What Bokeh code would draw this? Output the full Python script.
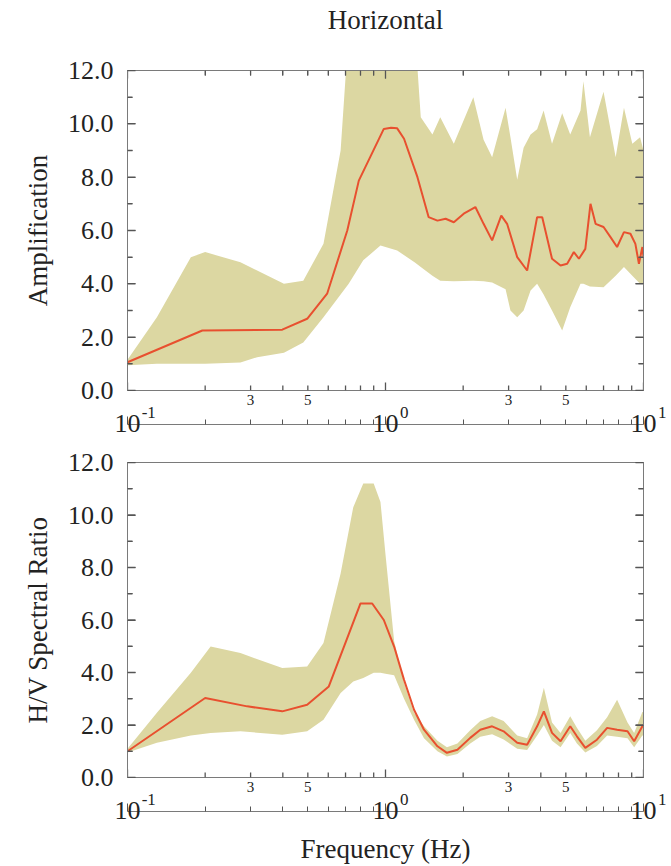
import math
from bokeh.plotting import figure
from bokeh.models import (Range1d, FixedTicker, LogAxis, LinearAxis,
                          CustomJSTickFormatter, NumeralTickFormatter)
from bokeh.layouts import column
from bokeh.embed import file_html
from bokeh.resources import INLINE

# ---------------- data ----------------
# Top panel: Horizontal amplification
amp_freq = [0.1, 0.195, 0.398, 0.497, 0.594, 0.711, 0.788, 0.985, 1.05, 1.11, 1.18,
            1.33, 1.47, 1.59, 1.71, 1.84, 2.01, 2.23, 2.40, 2.59, 2.81, 2.96, 3.24,
            3.54, 3.87, 4.05, 4.42, 4.77, 5.06, 5.37, 5.62, 5.95, 6.23, 6.52, 7.0,
            7.45, 7.9, 8.4, 8.9, 9.3, 9.6, 9.9, 10.0]
amp_median = [1.06, 2.25, 2.28, 2.69, 3.63, 6.0, 7.87, 9.81, 9.85, 9.83, 9.44,
              8.0, 6.5, 6.37, 6.44, 6.31, 6.63, 6.88, 6.25, 5.63, 6.56, 6.25, 5.0,
              4.5, 6.5, 6.5, 4.94, 4.69, 4.75, 5.19, 4.94, 5.31, 7.0, 6.25, 6.13,
              5.75, 5.38, 5.94, 5.88, 5.5, 4.75, 5.38, 5.0]

amp_band_freq = [0.1, 0.13, 0.176, 0.2, 0.274, 0.318, 0.404, 0.48, 0.575, 0.67, 0.72,
                 0.82, 0.956, 1.11, 1.3, 1.37, 1.52, 1.63, 1.84, 2.19, 2.4, 2.59, 2.92,
                 3.05, 3.24, 3.43, 3.65, 3.87, 4.1, 4.42, 4.84, 5.2, 5.7, 5.85, 6.2,
                 7.0, 7.8, 8.4, 9.05, 9.7, 10.0]
amp_upper = [1.15, 2.75, 5.0, 5.19, 4.81, 4.5, 4.0, 4.12, 5.5, 9.0, 13.5,
             13.5, 13.5, 13.5, 13.5, 10.25, 9.6, 10.25, 9.25, 11.0, 9.4, 8.75, 10.6,
             9.5, 7.9, 9.1, 9.6, 9.8, 10.5, 9.25, 10.4, 9.6, 10.5, 11.6, 9.5,
             11.2, 8.75, 10.6, 9.25, 9.5, 9.0]
amp_lower = [0.95, 1.0, 1.0, 1.0, 1.05, 1.25, 1.42, 1.8, 2.75, 3.6, 4.0,
             4.88, 5.44, 5.25, 4.8, 4.63, 4.3, 4.12, 4.1, 4.12, 4.1, 4.05, 3.8,
             3.0, 2.75, 3.0, 3.75, 4.0, 3.6, 3.0, 2.25, 3.12, 4.0, 4.0, 3.9,
             3.87, 4.3, 4.63, 4.3, 4.0, 4.0]

# Bottom panel: H/V spectral ratio
hv_freq = [0.1, 0.2, 0.291, 0.398, 0.497, 0.603, 0.80, 0.888, 0.985, 1.08, 1.18,
           1.29, 1.41, 1.59, 1.73, 1.90, 2.13, 2.33, 2.59, 2.87, 3.24, 3.54, 3.87,
           4.11, 4.42, 4.77, 5.2, 5.52, 5.95, 6.6, 7.23, 7.9, 8.67, 9.2, 9.9, 10.0]
hv_median = [1.0, 3.03, 2.71, 2.52, 2.77, 3.47, 6.63, 6.63, 6.0, 4.99, 3.72,
             2.58, 1.82, 1.19, 0.94, 1.06, 1.51, 1.82, 1.95, 1.76, 1.32, 1.25, 1.95,
             2.52, 1.70, 1.38, 1.95, 1.57, 1.13, 1.44, 1.89, 1.82, 1.76, 1.38, 1.95, 2.0]

hv_band_freq = [0.1, 0.13, 0.176, 0.21, 0.274, 0.398, 0.497, 0.575, 0.67, 0.75, 0.82,
                0.9, 0.956, 1.0, 1.08, 1.18, 1.29, 1.41, 1.59, 1.73, 1.9, 2.13, 2.33,
                2.59, 2.87, 3.24, 3.54, 3.87, 4.11, 4.42, 4.77, 5.2, 5.52, 5.95, 6.6,
                7.23, 7.9, 8.67, 9.2, 9.9, 10.0]
hv_upper = [1.1, 2.47, 3.99, 4.99, 4.74, 4.17, 4.23, 5.12, 7.77, 10.3, 11.2,
            11.2, 10.5, 8.5, 5.2, 3.6, 2.47, 1.95, 1.4, 1.15, 1.3, 1.8, 2.15,
            2.33, 2.15, 1.6, 1.5, 2.4, 3.42, 2.1, 1.7, 2.33, 1.9, 1.4, 1.8,
            2.3, 2.96, 2.1, 1.7, 2.5, 2.5]
hv_lower = [0.95, 1.32, 1.6, 1.7, 1.76, 1.63, 1.76, 2.2, 3.22, 3.66, 3.79,
            3.99, 3.99, 3.95, 3.9, 3.0, 2.2, 1.5, 1.0, 0.8, 0.9, 1.3, 1.55,
            1.65, 1.45, 1.1, 1.05, 1.6, 2.0, 1.4, 1.15, 1.7, 1.3, 0.95, 1.2,
            1.6, 1.55, 1.5, 1.15, 1.6, 1.6]

# axis limits, ticks and tick labels
x_lim = [0.1, 10.0]
y_lim = [0.0, 12.0]
x_major = [0.1, 1.0, 10.0]
x_minor = [0.2, 0.3, 0.4, 0.5, 0.6, 0.7, 0.8, 0.9, 2, 3, 4, 5, 6, 7, 8, 9]
x_minor_label_pos = [0.3, 0.5, 3.0, 5.0]
x_minor_label_txt = ["3", "5", "3", "5"]
x_exponents = ["-1", "0", "1"]
y_major = [0, 2, 4, 6, 8, 10, 12]
y_minor = [1, 3, 5, 7, 9, 11]

FONT = "Liberation Serif"
BAND = "#dcd7a2"
LINE = "#e8502f"
AXC = "#7a7a7a"
TICKC = "#555555"
TXT = "#222222"
NAN = float("nan")

LOOKUP = """
let best = 0, d = Infinity;
for (let i = 0; i < keys.length; i++) {
  const e = Math.abs(Math.log10(keys[i]) - Math.log10(tick));
  if (e < d) { d = e; best = i; }
}
const v = vals[best];
return (v.length > 1 ? pad2 : pad1) + v;
"""


def plain_axis(ax, ticks=False):
    ax.major_tick_in = 8 if ticks else 0
    ax.major_tick_out = 0
    ax.minor_tick_in = 5 if ticks else 0
    ax.minor_tick_out = 0
    ax.major_tick_line_color = TICKC
    ax.minor_tick_line_color = TICKC
    ax.axis_line_color = AXC
    ax.major_label_text_font = FONT
    ax.major_label_text_color = TXT
    ax.axis_label_text_font = FONT
    ax.axis_label_text_font_style = "normal"
    ax.axis_label_text_color = TXT


def blank_axis(ax, ticks=False):
    plain_axis(ax, ticks)
    ax.formatter = CustomJSTickFormatter(code="return ''")
    ax.major_label_standoff = 0
    ax.major_label_text_font_size = "1px"


def xtick_path(positions, base, dy):
    xs, ys = [], []
    for xv in positions:
        xs += [xv, xv, NAN]
        ys += [base, base + dy, NAN]
    return xs, ys


def ytick_path(positions, base, factor):
    xs, ys = [], []
    for yv in positions:
        xs += [base, base * factor, NAN]
        ys += [yv, yv, NAN]
    return xs, ys


def add_ticks(p, px_per_unit, top=True):
    # inward tick marks (8 px major, 5 px minor) built from the tick lists
    x0, x1 = x_lim
    y0, y1 = y_lim
    px_per_decade = 258.0
    big_y, small_y = 8 / px_per_unit, 5 / px_per_unit
    big_f, small_f = 10 ** (8 / px_per_decade), 10 ** (5 / px_per_decade)
    paths = [xtick_path(x_major, y0, big_y), xtick_path(x_minor, y0, small_y),
             ytick_path(y_major, x0, big_f), ytick_path(y_minor, x0, small_f),
             ytick_path(y_major, x1, 1 / big_f), ytick_path(y_minor, x1, 1 / small_f)]
    if top:
        paths += [xtick_path(x_major, y1, -big_y), xtick_path(x_minor, y1, -small_y)]
    for xs, ys in paths:
        p.line(x=xs, y=ys, line_color=TICKC, line_width=1.3)


def make_panel(height, top, bottom, ylabel, bfreq, upper, lower, freq, med,
               px_per_unit, xlabel=None, top_ticks=True, title=None):
    p = figure(width=671, height=height, x_axis_type="log",
               x_range=Range1d(*x_lim), y_range=Range1d(*y_lim),
               output_backend="svg", toolbar_location=None,
               min_border_left=127, min_border_right=28,
               min_border_top=top, min_border_bottom=bottom)
    p.grid.grid_line_color = None
    p.outline_line_color = AXC
    p.background_fill_color = None
    p.border_fill_color = "white"

    p.varea(x=bfreq, y1=lower, y2=upper, fill_color=BAND, fill_alpha=1.0)
    p.line(x=freq, y=med, line_color=LINE, line_width=2)
    add_ticks(p, px_per_unit, top=top_ticks)

    # main x axis: the "10" of each decade (carries the inward ticks too)
    xa = p.xaxis[0]
    xa.ticker = FixedTicker(ticks=x_major, minor_ticks=x_minor)
    xa.formatter = CustomJSTickFormatter(code="return '10'")
    plain_axis(xa, ticks=True)
    xa.major_label_text_font_size = "26px"
    xa.major_label_standoff = -10
    if xlabel:
        xa.axis_label = xlabel
        xa.axis_label_text_font_size = "27px"
        xa.axis_label_standoff = 12

    # small labels of minor ticks (3, 5)
    ma = LogAxis(ticker=FixedTicker(ticks=x_minor_label_pos, minor_ticks=[]),
                 formatter=CustomJSTickFormatter(
                     args=dict(keys=x_minor_label_pos, vals=x_minor_label_txt,
                               pad1="", pad2=""),
                     code=LOOKUP))
    plain_axis(ma)
    ma.axis_line_color = None
    ma.major_label_text_font_size = "15px"
    ma.major_label_standoff = 4

    # exponents of the decades, shifted to the right of "10"
    ea = LogAxis(ticker=FixedTicker(ticks=x_major, minor_ticks=[]),
                 formatter=CustomJSTickFormatter(
                     args=dict(keys=x_major, vals=x_exponents,
                               pad1="\u2003\u2003\u2009",
                               pad2="\u2003\u2003\u2002"),
                     code=LOOKUP))
    plain_axis(ea)
    ea.axis_line_color = None
    ea.major_label_text_font_size = "17px"
    ea.major_label_standoff = -5

    p.below = [ma, ea, xa]

    ya = p.yaxis[0]
    ya.ticker = FixedTicker(ticks=y_major, minor_ticks=y_minor)
    ya.formatter = NumeralTickFormatter(format="0.0")
    plain_axis(ya, ticks=True)
    ya.major_label_text_font_size = "26px"
    ya.major_label_standoff = 14
    ya.axis_label = ylabel
    ya.axis_label_text_font_size = "27px"
    ya.axis_label_standoff = 12

    ra = LinearAxis(ticker=FixedTicker(ticks=y_major, minor_ticks=y_minor))
    blank_axis(ra, ticks=True)
    p.add_layout(ra, "right")

    if title:
        ta = LogAxis(ticker=FixedTicker(ticks=x_major, minor_ticks=x_minor))
        blank_axis(ta, ticks=top_ticks)
        ta.axis_label = title
        ta.axis_label_text_font_size = "27px"
        ta.axis_label_standoff = 36
        p.add_layout(ta, "above")
    return p


p1 = make_panel(440, 70, 50, "Amplification", amp_band_freq, amp_upper,
                amp_lower, amp_freq, amp_median, 320 / 12, title="Horizontal")

p2 = make_panel(426, 22, 88, "H/V Spectral Ratio", hv_band_freq, hv_upper,
                hv_lower, hv_freq, hv_median, 316 / 12, xlabel="Frequency (Hz)",
                top_ticks=False)

layout = column(p1, p2, spacing=0)
open("out.html", "w").write(file_html(layout, INLINE))
